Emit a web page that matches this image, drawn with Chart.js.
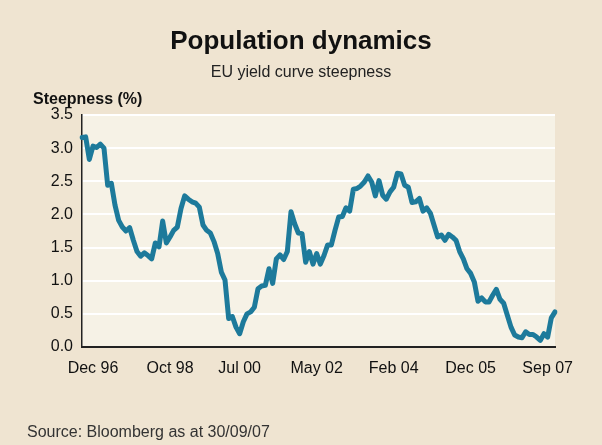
<!DOCTYPE html>
<html>
<head>
<meta charset="utf-8">
<script src="https://cdn.jsdelivr.net/npm/chart.js@4/dist/chart.umd.min.js"></script>
<style>
  body { margin: 0; background: #efe4d1; font-family: "Liberation Sans", Arial, Helvetica, sans-serif; }
  #wrap { position: relative; width: 602px; height: 445px; }
  #wrap div { position: absolute; line-height: 1; white-space: nowrap; color: #111; }
  .title { left: 0; width: 602px; top: 27px; text-align: center; font-size: 26px; font-weight: bold; }
  .subtitle { left: 0; width: 602px; top: 64px; text-align: center; font-size: 16px; color: #222 !important; }
  .ytitle { left: 33px; top: 91px; font-size: 16px; font-weight: bold; }
  .source { left: 27px; top: 424px; font-size: 16px; color: #333 !important; }
</style>
</head>
<body>
<div id="wrap">
  <canvas id="chart" width="602" height="445"></canvas>
  <div class="title">Population dynamics</div>
  <div class="subtitle">EU yield curve steepness</div>
  <div class="ytitle">Steepness (%)</div>
  <div class="source">Source: Bloomberg as at 30/09/07</div>
</div>
<script>
// Monthly steepness, Dec 96 to Sep 07
const steepness = [
  3.16, 3.17, 2.83, 3.03, 3.01, 3.06, 3.00, 2.44, 2.47, 2.14,
  1.91, 1.81, 1.75, 1.80, 1.61, 1.44, 1.37, 1.42, 1.38, 1.33,
  1.57, 1.51, 1.90, 1.57, 1.66, 1.76, 1.81, 2.09, 2.28, 2.23,
  2.19, 2.17,
  2.11, 1.84, 1.76, 1.72, 1.59, 1.41, 1.13, 1.01, 0.43, 0.46,
  0.30, 0.20, 0.38, 0.50, 0.53, 0.60, 0.88, 0.92, 0.93, 1.18,
  0.96, 1.33, 1.39, 1.32, 1.44, 2.04, 1.86, 1.72, 1.71, 1.28,
  1.44, 1.25, 1.41, 1.25, 1.38, 1.54, 1.54, 1.76, 1.96, 1.97,
  2.10, 2.05, 2.38, 2.39, 2.43, 2.49, 2.58, 2.49, 2.28, 2.51,
  2.29, 2.23, 2.34, 2.41, 2.62,
  2.61, 2.44, 2.41, 2.18, 2.19, 2.24, 2.05, 2.10, 2.02, 1.84,
  1.66, 1.69, 1.61, 1.70, 1.66, 1.61, 1.44, 1.33, 1.18, 1.11,
  0.98, 0.69, 0.74, 0.68, 0.68, 0.78, 0.87, 0.72, 0.66, 0.48,
  0.30, 0.18, 0.15, 0.14, 0.23, 0.19, 0.19, 0.15, 0.10, 0.20,
  0.15, 0.44, 0.53
];

// x axis labels as printed under the chart, and the points they sit under
const tickLabels = ['Dec 96', 'Oct 98', 'Jul 00', 'May 02', 'Feb 04', 'Dec 05', 'Sep 07'];
const tickIndex = [3, 24, 43, 64, 85, 106, 127];

// month categories
const monthNames = ['Jan','Feb','Mar','Apr','May','Jun','Jul','Aug','Sep','Oct','Nov','Dec'];
const months = [];
for (let i = 0; i < steepness.length; i++) {
  const m = (11 + i) % 12;
  const y = 96 + Math.floor((11 + i) / 12);
  months.push(monthNames[m] + ' ' + String(y % 100).padStart(2, '0'));
}

const plotBg = {
  id: 'plotBg',
  beforeDraw(chart) {
    const { ctx, chartArea: a } = chart;
    ctx.save();
    ctx.fillStyle = '#f6f2e6';
    ctx.fillRect(a.left, a.top, a.right - a.left, a.bottom - a.top);
    ctx.restore();
  }
};

const fontFamily = '"Liberation Sans", Arial, Helvetica, sans-serif';

new Chart(document.getElementById('chart'), {
  type: 'line',
  data: {
    labels: months,
    datasets: [{
      data: steepness,
      borderColor: '#1d7a9b',
      borderWidth: 5,
      borderJoinStyle: 'round',
      borderCapStyle: 'round',
      pointRadius: 0,
      tension: 0,
      fill: false
    }]
  },
  options: {
    responsive: false,
    animation: false,
    layout: { padding: { left: 0, top: 115, right: 47, bottom: 0 } },
    plugins: { legend: { display: false }, tooltip: { enabled: false } },
    scales: {
      x: {
        afterFit: (s) => { s.height = 98; },
        grid: { display: false, drawTicks: false },
        border: { color: '#222', width: 2 },
        ticks: {
          autoSkip: false,
          maxRotation: 0,
          padding: 12,
          color: '#111',
          font: { family: fontFamily, size: 16 },
          callback: (v, i) => {
            const k = tickIndex.indexOf(i);
            return k >= 0 ? tickLabels[k] : '';
          }
        }
      },
      y: {
        min: 0,
        max: 3.5,
        afterFit: (s) => { s.width = 82; },
        grid: { color: '#ffffff', lineWidth: 2, drawTicks: false },
        border: { color: '#222', width: 1.5 },
        ticks: {
          stepSize: 0.5,
          padding: 9,
          color: '#111',
          font: { family: fontFamily, size: 16 },
          callback: (v) => v.toFixed(1)
        }
      }
    }
  },
  plugins: [plotBg]
});
</script>
</body>
</html>
